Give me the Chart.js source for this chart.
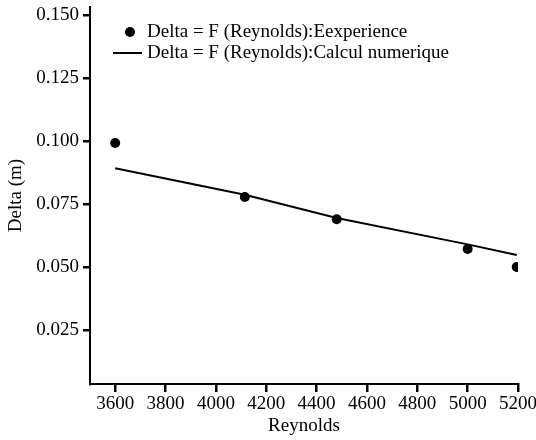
<!DOCTYPE html>
<html>
<head>
<meta charset="utf-8">
<script src="https://cdn.jsdelivr.net/npm/chart.js@4.4.1/dist/chart.umd.min.js"></script>
<style>
html,body{margin:0;padding:0;background:#fff;}
#wrap{width:536px;height:440px;position:relative;}
</style>
</head>
<body>
<div id="wrap"><canvas id="c" width="536" height="440"></canvas></div>
<script>
// ---- data ----
const reynoldsExp = [3600, 4115, 4480, 5000, 5195];
const deltaExp    = [0.0992, 0.0778, 0.0690, 0.0572, 0.0500];
const reynoldsNum = [3600, 4115, 4480, 5000, 5195];
const deltaNum    = [0.0892, 0.0787, 0.0695, 0.0590, 0.0548];
const xTicks = [3600, 3800, 4000, 4200, 4400, 4600, 4800, 5000, 5200];
const yTicks = [0.025, 0.050, 0.075, 0.100, 0.125, 0.150];
const labelExp = 'Delta = F (Reynolds):Eexperience';
const labelNum = 'Delta = F (Reynolds):Calcul numerique';
const xTitle = 'Reynolds';
const yTitle = 'Delta (m)';

const FONT = 'Liberation Serif';
const FS = 19;
const toPts = (xs, ys) => xs.map((x, i) => ({x: x, y: ys[i]}));

const legendPlugin = {
  id: 'customLegend',
  afterDraw(chart) {
    const ctx = chart.ctx, a = chart.chartArea;
    const ds = chart.data.datasets;
    ctx.save();
    ctx.font = FS + 'px "' + FONT + '"';
    ctx.fillStyle = '#000';
    ctx.textBaseline = 'middle';
    ctx.textAlign = 'left';
    const tx = a.left + 57;
    const y1 = a.top + 25, y2 = a.top + 46;
    ctx.beginPath();
    ctx.arc(a.left + 40, y1, 5, 0, Math.PI * 2);
    ctx.fill();
    ctx.fillText(ds[0].label, tx, y1);
    ctx.strokeStyle = '#000';
    ctx.lineWidth = 2;
    ctx.beginPath();
    ctx.moveTo(a.left + 23, y2);
    ctx.lineTo(a.left + 52, y2);
    ctx.stroke();
    ctx.fillText(ds[1].label, tx, y2);
    ctx.restore();
  }
};

new Chart(document.getElementById('c'), {
  type: 'scatter',
  data: {
    datasets: [
      {
        label: labelExp,
        data: toPts(reynoldsExp, deltaExp),
        showLine: false,
        pointRadius: 5,
        pointHoverRadius: 5,
        pointBackgroundColor: '#000',
        pointBorderColor: '#000',
        pointBorderWidth: 0
      },
      {
        label: labelNum,
        data: toPts(reynoldsNum, deltaNum),
        showLine: true,
        tension: 0,
        borderColor: '#000',
        borderWidth: 2,
        pointRadius: 0,
        pointHoverRadius: 0,
        fill: false
      }
    ]
  },
  options: {
    responsive: false,
    animation: false,
    devicePixelRatio: 1,
    layout: {padding: {left: 0, top: 7, right: 18, bottom: 0}},
    plugins: {
      legend: {display: false},
      tooltip: {enabled: false}
    },
    scales: {
      x: {
        type: 'linear',
        min: 3500,
        max: 5200,
        afterBuildTicks: s => { s.ticks = xTicks.map(v => ({value: v})); },
        afterFit: s => { s.height = 56; s.paddingLeft = 0; s.paddingRight = 0; },
        border: {display: true, color: '#000', width: 2},
        grid: {display: true, drawOnChartArea: false, drawTicks: true, tickLength: 8, lineWidth: 2.5, color: '#000'},
        ticks: {color: '#000', font: {family: FONT, size: FS}, padding: 1, maxRotation: 0, autoSkip: false,
                callback: v => String(v)},
        title: {display: true, text: xTitle, color: '#000', font: {family: FONT, size: FS}, padding: {top: 0, bottom: 3}}
      },
      y: {
        type: 'linear',
        min: 0.0036,
        max: 0.1532,
        afterBuildTicks: s => { s.ticks = yTicks.map(v => ({value: v})); },
        afterFit: s => { s.width = 90; s.paddingTop = 0; s.paddingBottom = 0; },
        border: {display: true, color: '#000', width: 2},
        grid: {display: true, drawOnChartArea: false, drawTicks: true, tickLength: 7, lineWidth: 2.5, color: '#000'},
        ticks: {color: '#000', font: {family: FONT, size: FS}, padding: 4, autoSkip: false,
                callback: v => v.toFixed(3)},
        title: {display: true, text: yTitle, color: '#000', font: {family: FONT, size: FS}, padding: {top: 5, bottom: 0}}
      }
    }
  },
  plugins: [legendPlugin]
});
</script>
</body>
</html>
